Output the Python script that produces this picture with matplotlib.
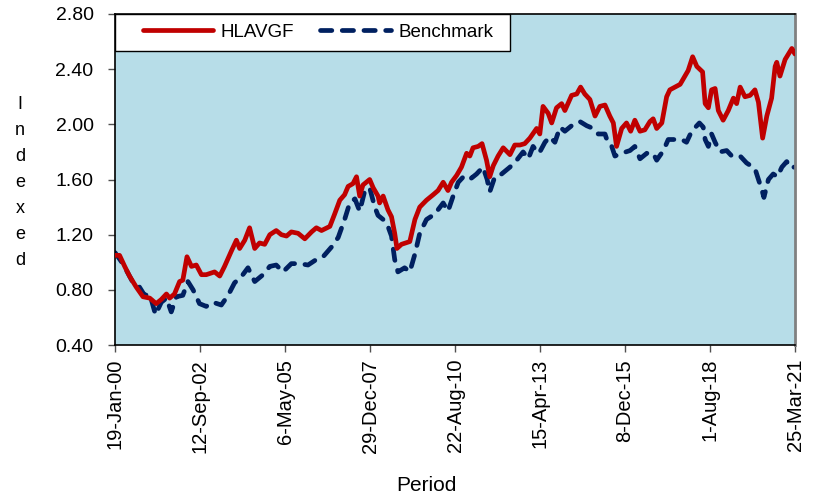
import matplotlib
matplotlib.use("Agg")
import matplotlib.pyplot as plt
import matplotlib.patches as mpatches
import numpy as np
import pandas as pd

plt.rcParams['font.family'] = ['Liberation Sans', 'DejaVu Sans']

# ---- data (decimal years, indexed values) ----
hl_years = [2000.049, 2000.19, 2000.35, 2000.50, 2000.71, 2000.92, 2001.13, 2001.33, 2001.49, 2001.65,
            2001.75, 2001.90, 2002.06, 2002.16, 2002.29, 2002.43, 2002.58, 2002.74, 2002.89, 2003.15,
            2003.31, 2003.46, 2003.67, 2003.83, 2003.93, 2004.09, 2004.24, 2004.40, 2004.55, 2004.71,
            2004.87, 2005.07, 2005.23, 2005.39, 2005.54, 2005.75, 2005.96, 2006.17, 2006.32, 2006.48,
            2006.74, 2006.89, 2007.05, 2007.20, 2007.31, 2007.46, 2007.57, 2007.67, 2007.77, 2007.98,
            2008.09, 2008.24, 2008.29, 2008.40, 2008.55, 2008.66, 2008.76, 2008.83, 2008.97, 2009.23,
            2009.39, 2009.54, 2009.75, 2009.96, 2010.11, 2010.27, 2010.42, 2010.53, 2010.69, 2010.84,
            2011.00, 2011.10, 2011.20, 2011.36, 2011.48, 2011.62, 2011.72, 2011.83, 2011.98, 2012.14,
            2012.35, 2012.50, 2012.66, 2012.81, 2012.97, 2013.18, 2013.28, 2013.38, 2013.54, 2013.65,
            2013.80, 2013.96, 2014.06, 2014.27, 2014.43, 2014.55, 2014.68, 2014.84, 2015.00, 2015.15,
            2015.31, 2015.46, 2015.57, 2015.67, 2015.83, 2015.98, 2016.11, 2016.24, 2016.40, 2016.55,
            2016.71, 2016.81, 2016.92, 2017.08, 2017.23, 2017.33, 2017.49, 2017.65, 2017.80, 2017.90,
            2018.04, 2018.17, 2018.35, 2018.43, 2018.53, 2018.63, 2018.74, 2018.84, 2018.99, 2019.15,
            2019.31, 2019.41, 2019.52, 2019.67, 2019.83, 2019.98, 2020.09, 2020.22, 2020.35, 2020.50,
            2020.61, 2020.66, 2020.76, 2020.92, 2021.13, 2021.225]
hl_values = [1.05, 1.05, 0.97, 0.90, 0.82, 0.75, 0.74, 0.70, 0.73, 0.77,
             0.74, 0.77, 0.86, 0.87, 1.04, 0.97, 0.98, 0.91, 0.91, 0.93,
             0.90, 0.97, 1.08, 1.16, 1.10, 1.16, 1.25, 1.10, 1.14, 1.13,
             1.20, 1.23, 1.20, 1.19, 1.22, 1.21, 1.17, 1.22, 1.25, 1.23,
             1.26, 1.35, 1.45, 1.49, 1.55, 1.57, 1.62, 1.48, 1.56, 1.60,
             1.54, 1.48, 1.43, 1.48, 1.38, 1.33, 1.21, 1.10, 1.13, 1.15,
             1.31, 1.40, 1.45, 1.49, 1.52, 1.58, 1.52, 1.58, 1.63, 1.69,
             1.79, 1.77, 1.83, 1.84, 1.86, 1.74, 1.62, 1.70, 1.77, 1.83,
             1.78, 1.85, 1.85, 1.86, 1.90, 1.97, 1.93, 2.13, 2.08, 2.01,
             2.12, 2.15, 2.10, 2.21, 2.22, 2.27, 2.22, 2.18, 2.06, 2.13,
             2.14, 2.06, 2.01, 1.84, 1.97, 2.01, 1.95, 2.03, 1.95, 1.96,
             2.02, 2.04, 1.97, 2.01, 2.20, 2.25, 2.27, 2.29, 2.35, 2.39,
             2.49, 2.42, 2.38, 2.15, 2.12, 2.25, 2.26, 2.10, 2.03, 2.10,
             2.19, 2.15, 2.27, 2.20, 2.21, 2.25, 2.16, 1.90, 2.06, 2.19,
             2.42, 2.45, 2.35, 2.47, 2.55, 2.51]

bm_years = [2000.049, 2000.14, 2000.29, 2000.50, 2000.66, 2000.81, 2000.97, 2001.13, 2001.31, 2001.49,
            2001.65, 2001.80, 2001.96, 2002.16, 2002.32, 2002.48, 2002.68, 2002.89, 2003.10, 2003.36,
            2003.57, 2003.77, 2004.03, 2004.19, 2004.40, 2004.66, 2004.87, 2005.07, 2005.28, 2005.54,
            2005.80, 2006.06, 2006.32, 2006.53, 2006.79, 2007.00, 2007.20, 2007.36, 2007.52, 2007.67,
            2007.83, 2007.98, 2008.14, 2008.24, 2008.40, 2008.55, 2008.66, 2008.76, 2008.86, 2009.07,
            2009.23, 2009.39, 2009.54, 2009.75, 2010.01, 2010.27, 2010.42, 2010.58, 2010.74, 2010.94,
            2011.15, 2011.31, 2011.51, 2011.64, 2011.72, 2011.88, 2012.09, 2012.35, 2012.56, 2012.76,
            2012.92, 2013.07, 2013.23, 2013.28, 2013.44, 2013.59, 2013.75, 2013.91, 2014.06, 2014.27,
            2014.53, 2014.74, 2014.94, 2015.10, 2015.31, 2015.41, 2015.52, 2015.62, 2015.83, 2016.09,
            2016.24, 2016.40, 2016.61, 2016.81, 2016.92, 2017.13, 2017.28, 2017.54, 2017.70, 2017.85,
            2018.01, 2018.25, 2018.37, 2018.43, 2018.53, 2018.63, 2018.74, 2018.89, 2019.10, 2019.26,
            2019.52, 2019.72, 2019.98, 2020.09, 2020.19, 2020.26, 2020.40, 2020.55, 2020.68, 2020.82,
            2020.97, 2021.13, 2021.20, 2021.225]
bm_values = [1.07, 1.04, 0.99, 0.90, 0.83, 0.82, 0.76, 0.77, 0.62, 0.71,
             0.74, 0.64, 0.75, 0.76, 0.86, 0.80, 0.70, 0.68, 0.71, 0.69,
             0.76, 0.85, 0.91, 0.96, 0.86, 0.91, 0.97, 0.98, 0.93, 0.99,
             0.99, 0.98, 1.02, 1.04, 1.11, 1.18, 1.31, 1.43, 1.46, 1.37,
             1.52, 1.54, 1.40, 1.34, 1.31, 1.26, 1.19, 1.02, 0.93, 0.96,
             0.93, 1.06, 1.21, 1.31, 1.35, 1.43, 1.37, 1.48, 1.58, 1.63,
             1.61, 1.64, 1.69, 1.60, 1.51, 1.62, 1.64, 1.69, 1.74, 1.80,
             1.75, 1.84, 1.79, 1.80, 1.87, 1.91, 1.87, 1.98, 1.95, 1.99,
             2.02, 1.99, 1.97, 1.93, 1.93, 1.86, 1.84, 1.77, 1.79, 1.81,
             1.84, 1.75, 1.79, 1.79, 1.74, 1.81, 1.89, 1.89, 1.89, 1.87,
             1.95, 2.01, 1.98, 1.89, 1.84, 1.93, 1.87, 1.80, 1.81, 1.77,
             1.77, 1.72, 1.68, 1.60, 1.53, 1.47, 1.60, 1.64, 1.62, 1.69,
             1.73, 1.68, 1.69, 1.69]

x_tick_labels = ['19-Jan-00', '12-Sep-02', '6-May-05', '29-Dec-07', '22-Aug-10',
                 '15-Apr-13', '8-Dec-15', '1-Aug-18', '25-Mar-21']
y_ticks = [0.40, 0.80, 1.20, 1.60, 2.00, 2.40, 2.80]
series_names = ['HLAVGF', 'Benchmark']


def to_dates(years):
    y = np.asarray(years)
    base = pd.Timestamp('2000-01-01')
    return base + pd.to_timedelta((y - 2000.0) * 365.25, unit='D')


tick_dates = pd.to_datetime(x_tick_labels, format='%d-%b-%y')

fig = plt.figure(figsize=(8.13, 4.98), dpi=100)
ax = fig.add_axes([0.1415, 0.3072, 0.8364, 0.6647])
ax.set_facecolor('#B7DDE8')

ax.plot(to_dates(hl_years), hl_values, color='#C00000', lw=3.4,
        solid_joinstyle='round', solid_capstyle='round', label=series_names[0], zorder=3)
ax.plot(to_dates(bm_years), bm_values, color='#002060', lw=3.4,
        dashes=(2.4, 2.2), dash_capstyle='round', dash_joinstyle='round',
        label=series_names[1], zorder=2)

ax.set_xlim(tick_dates[0], tick_dates[-1])
ax.set_ylim(y_ticks[0], y_ticks[-1])
ax.set_yticks(y_ticks)
ax.set_yticklabels([f'{v:.2f}' for v in y_ticks])
ax.set_xticks(tick_dates)
ax.set_xticklabels(x_tick_labels, rotation=90, va='top', ha='center')

ax.tick_params(axis='both', direction='out', length=5, width=1, color='#505050',
               labelcolor='black')
ax.tick_params(axis='y', pad=10.5, labelsize=14)
ax.tick_params(axis='x', pad=5, labelsize=14.5)

for s in ['left', 'top', 'bottom']:
    ax.spines[s].set_color('black')
    ax.spines[s].set_linewidth(1.2)
ax.spines['right'].set_color('#808080')
ax.spines['right'].set_linewidth(2)

# legend box
box = mpatches.Rectangle((0, 0.889), 0.581, 0.111, transform=ax.transAxes,
                         facecolor='white', edgecolor='black', lw=1.0, zorder=4)
ax.add_patch(box)
leg = ax.legend(loc='center left', bbox_to_anchor=(0.041, 0.945), ncol=2, frameon=False,
                fontsize=13.5, handlelength=3.75, handletextpad=0.4, columnspacing=1.4,
                borderpad=0, borderaxespad=0)
leg.set_zorder(5)

fig.text(0.0246, 0.6335, 'I\nn\nd\ne\nx\ne\nd', ha='center', va='center',
         fontsize=13, linespacing=1.68)
fig.text(0.525, 0.026, 'Period', ha='center', va='center', fontsize=15)

fig.savefig('out.png', dpi=100)
